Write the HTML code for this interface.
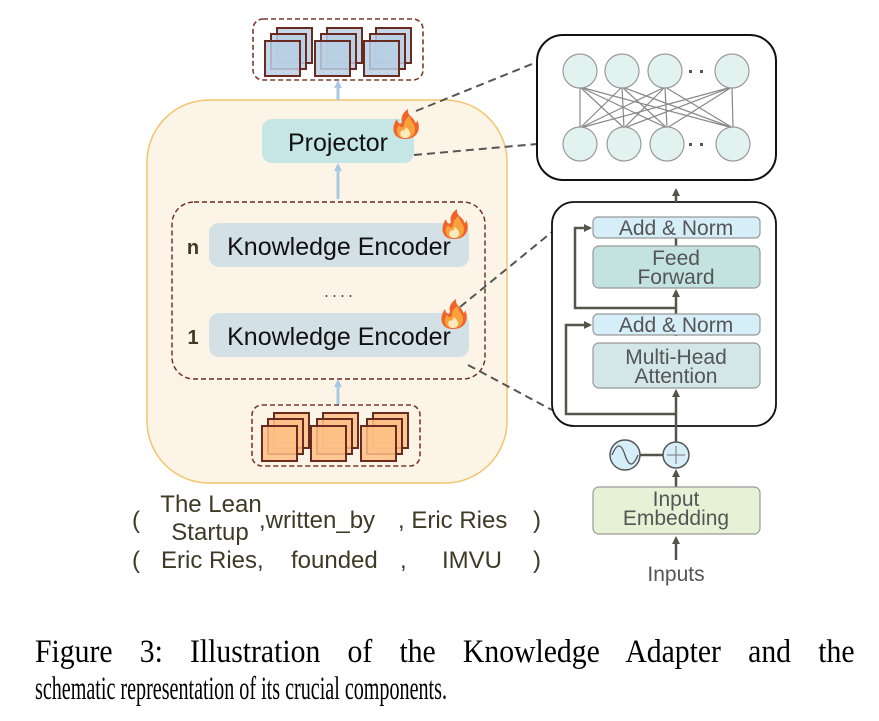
<!DOCTYPE html>
<html><head><meta charset="utf-8"><style>
html,body{margin:0;padding:0;background:#fff;}
svg{display:block;}
</style></head><body>
<svg width="879" height="721" viewBox="0 0 879 721" xmlns="http://www.w3.org/2000/svg" font-family="'Liberation Sans', sans-serif">
<defs>
<marker id="ab" markerWidth="8" markerHeight="8" refX="4" refY="4" orient="auto" markerUnits="userSpaceOnUse"><path d="M0,0 L8,4 L0,8 z" fill="#a9c9e2"/></marker>
<marker id="ag" markerWidth="8" markerHeight="8" refX="6" refY="4" orient="auto" markerUnits="userSpaceOnUse"><path d="M0,0 L8,4 L0,8 z" fill="#55554a"/></marker>
<g id="fl">
<path d="M0,15 C-13,15 -14,3 -8,-5 C-7,0 -4,1 -3,-2 C-5,-8 0,-13 3,-15 C2,-8 9,-7 10,-2 C11,0 12,-2 12,-4 C16,3 14,15 0,15 z" fill="#f0642a"/>
<path d="M0,14 C-9,14 -10,6 -6,1 C-4,4 -2,4 -1,1 C-1,-4 3,-7 5,-8 C5,-3 10,0 10,5 C10,11 6,14 0,14 z" fill="#f9a23b"/>
<path d="M0,14 C-5,14 -6,9 -3,6 C-1,8 0,5 1,3 C4,6 6,8 5,11 C4,13 2,14 0,14 z" fill="#fde9c0"/>
</g>
<g id="bt"><rect x="0" y="0" width="35" height="35" fill="#b9d0e4" fill-opacity="0.85" stroke="#6b2a20" stroke-width="2"/></g>
<g id="ot"><rect x="0" y="0" width="35" height="35" fill="#fdbf85" fill-opacity="0.85" stroke="#6b2a20" stroke-width="2"/></g>
</defs>

<rect x="147" y="100" width="360" height="383" rx="62" fill="#fdf4e8" stroke="#f2c66c" stroke-width="1.5"/>

<rect x="253" y="19" width="170" height="61" rx="10" fill="none" stroke="#7a3b2e" stroke-width="1.6" stroke-dasharray="5,3"/>
<g>
<use href="#bt" x="277" y="28"/><use href="#bt" x="271" y="34"/><use href="#bt" x="265" y="41"/>
<use href="#bt" x="327" y="28"/><use href="#bt" x="321" y="34"/><use href="#bt" x="315" y="41"/>
<use href="#bt" x="376" y="28"/><use href="#bt" x="370" y="34"/><use href="#bt" x="364" y="41"/>
</g>
<line x1="338" y1="100" x2="338" y2="84" stroke="#a9c9e2" stroke-width="3" marker-end="url(#ab)"/>

<rect x="262" y="119" width="152" height="44" rx="10" fill="#c5e6e4"/>
<text x="338" y="151" font-size="25" text-anchor="middle" fill="#111">Projector</text>
<line x1="338" y1="199" x2="338" y2="167" stroke="#a9c9e2" stroke-width="3" marker-end="url(#ab)"/>

<rect x="172" y="202" width="313" height="177" rx="22" fill="none" stroke="#6b2a20" stroke-width="1.4" stroke-dasharray="5,3"/>
<rect x="209" y="223" width="260" height="44" rx="10" fill="#d3e0e5"/>
<text x="339" y="255" font-size="25" text-anchor="middle" fill="#111">Knowledge Encoder</text>
<rect x="209" y="313" width="260" height="44" rx="10" fill="#d3e0e5"/>
<text x="339" y="345" font-size="25" text-anchor="middle" fill="#111">Knowledge Encoder</text>
<text x="193" y="254" font-size="20" font-weight="bold" text-anchor="middle" fill="#3e3a26">n</text>
<text x="193" y="344" font-size="20" font-weight="bold" text-anchor="middle" fill="#3e3a26">1</text>
<text x="340" y="297" font-size="18" text-anchor="middle" fill="#555" letter-spacing="3">....</text>
<line x1="338" y1="405" x2="338" y2="383" stroke="#a9c9e2" stroke-width="3" marker-end="url(#ab)"/>

<rect x="252" y="405" width="168" height="61" rx="10" fill="none" stroke="#7a3b2e" stroke-width="1.6" stroke-dasharray="5,3"/>
<g>
<use href="#ot" x="274" y="413"/><use href="#ot" x="268" y="419"/><use href="#ot" x="262" y="426"/>
<use href="#ot" x="323" y="413"/><use href="#ot" x="317" y="419"/><use href="#ot" x="311" y="426"/>
<use href="#ot" x="373" y="413"/><use href="#ot" x="367" y="419"/><use href="#ot" x="361" y="426"/>
</g>

<g stroke="#555" stroke-width="2" stroke-dasharray="8,5" fill="none">
<line x1="416" y1="111" x2="537" y2="62"/>
<line x1="414" y1="155" x2="537" y2="144"/>
<line x1="460" y1="307" x2="552" y2="232"/>
<line x1="468" y1="365" x2="552" y2="410"/>
</g>

<use href="#fl" x="405" y="124"/>
<use href="#fl" x="454" y="224"/>
<use href="#fl" x="453" y="314"/>

<rect x="537" y="35" width="239" height="145" rx="26" fill="#fff" stroke="#111" stroke-width="2"/>
<g stroke="#888" stroke-width="1.2">
<line x1="580" y1="87" x2="580" y2="128"/><line x1="580" y1="87" x2="624" y2="128"/><line x1="580" y1="87" x2="667" y2="128"/><line x1="580" y1="87" x2="733" y2="128"/>
<line x1="622" y1="87" x2="580" y2="128"/><line x1="622" y1="87" x2="624" y2="128"/><line x1="622" y1="87" x2="667" y2="128"/><line x1="622" y1="87" x2="733" y2="128"/>
<line x1="665" y1="87" x2="580" y2="128"/><line x1="665" y1="87" x2="624" y2="128"/><line x1="665" y1="87" x2="667" y2="128"/><line x1="665" y1="87" x2="733" y2="128"/>
<line x1="732" y1="87" x2="580" y2="128"/><line x1="732" y1="87" x2="624" y2="128"/><line x1="732" y1="87" x2="667" y2="128"/><line x1="732" y1="87" x2="733" y2="128"/>
</g>
<g fill="#e2f2ef" stroke="#999" stroke-width="1.2">
<circle cx="580" cy="71" r="17"/><circle cx="622" cy="71" r="17"/><circle cx="665" cy="71" r="17"/><circle cx="732" cy="71" r="17"/>
<circle cx="580" cy="144" r="17"/><circle cx="624" cy="144" r="17"/><circle cx="667" cy="144" r="17"/><circle cx="733" cy="144" r="17"/>
</g>
<g fill="#555"><rect x="689" y="70" width="3" height="3"/><rect x="700" y="70" width="3" height="3"/><rect x="689" y="143" width="3" height="3"/><rect x="700" y="143" width="3" height="3"/></g>

<rect x="552" y="202" width="224" height="224" rx="22" fill="#fff" stroke="#111" stroke-width="1.8"/>
<g stroke="#55554a" stroke-width="2.5" fill="none">
<line x1="676" y1="202" x2="676" y2="190" marker-end="url(#ag)"/>
<line x1="676" y1="445" x2="676" y2="391" marker-end="url(#ag)"/>
<line x1="676" y1="336" x2="676" y2="291" marker-end="url(#ag)"/>
<line x1="676" y1="288" x2="676" y2="238"/>
<polyline points="676,308 575,308 575,228 590,228" marker-end="url(#ag)"/>
<polyline points="676,414 566,414 566,325 590,325" marker-end="url(#ag)"/>
<line x1="640" y1="455" x2="663" y2="455"/>
<line x1="676" y1="487" x2="676" y2="471" marker-end="url(#ag)"/>
<line x1="676" y1="560" x2="676" y2="538" marker-end="url(#ag)"/>
</g>
<g stroke="#999" stroke-width="1.2">
<rect x="593" y="217" width="167" height="21" rx="5" fill="#d6eef8"/>
<rect x="593" y="246" width="167" height="42" rx="6" fill="#c2e3df"/>
<rect x="593" y="314" width="167" height="21" rx="5" fill="#d6eef8"/>
<rect x="593" y="343" width="167" height="45" rx="6" fill="#d3e6e8"/>
<rect x="593" y="487" width="167" height="47" rx="6" fill="#e6f2d6"/>
</g>
<g font-size="21" fill="#555" text-anchor="middle">
<text x="676" y="235">Add &amp; Norm</text>
<text x="676" y="265">Feed</text><text x="676" y="284">Forward</text>
<text x="676" y="332">Add &amp; Norm</text>
<text x="676" y="364">Multi-Head</text><text x="676" y="383">Attention</text>
<text x="676" y="506">Input</text><text x="676" y="525">Embedding</text>
<text x="676" y="581">Inputs</text>
</g>
<circle cx="625" cy="455" r="15" fill="#d6eef8" stroke="#555" stroke-width="1.5"/>
<path d="M612,455 C617,443 621,443 625,455 C629,467 633,467 638,455" fill="none" stroke="#555" stroke-width="1.3"/>
<circle cx="676" cy="455" r="13" fill="#d6eef8" stroke="#555" stroke-width="1.5"/>
<path d="M667,455 H685 M676,446 V464" stroke="#777" stroke-width="1"/>

<g font-size="24" fill="#3e3a26">
<text x="132" y="528">(</text>
<text x="211" y="512" text-anchor="middle">The Lean</text>
<text x="210" y="540" text-anchor="middle">Startup</text>
<text x="259" y="528">,written_by</text>
<text x="398" y="528">, Eric Ries</text>
<text x="533" y="528">)</text>
<text x="132" y="568">(</text>
<text x="161" y="568">Eric Ries,</text>
<text x="291" y="568">founded</text>
<text x="400" y="568">,</text>
<text x="442" y="568">IMVU</text>
<text x="533" y="568">)</text>
</g>

<g font-family="'Liberation Serif', serif" font-size="33" fill="#000">
<text transform="scale(0.9,1)" x="38.9" y="662" word-spacing="22">Figure 3: Illustration of the Knowledge Adapter and the</text>
<text x="35" y="699" textLength="412" lengthAdjust="spacingAndGlyphs">schematic representation of its crucial components.</text>
</g>
</svg>
</body></html>
